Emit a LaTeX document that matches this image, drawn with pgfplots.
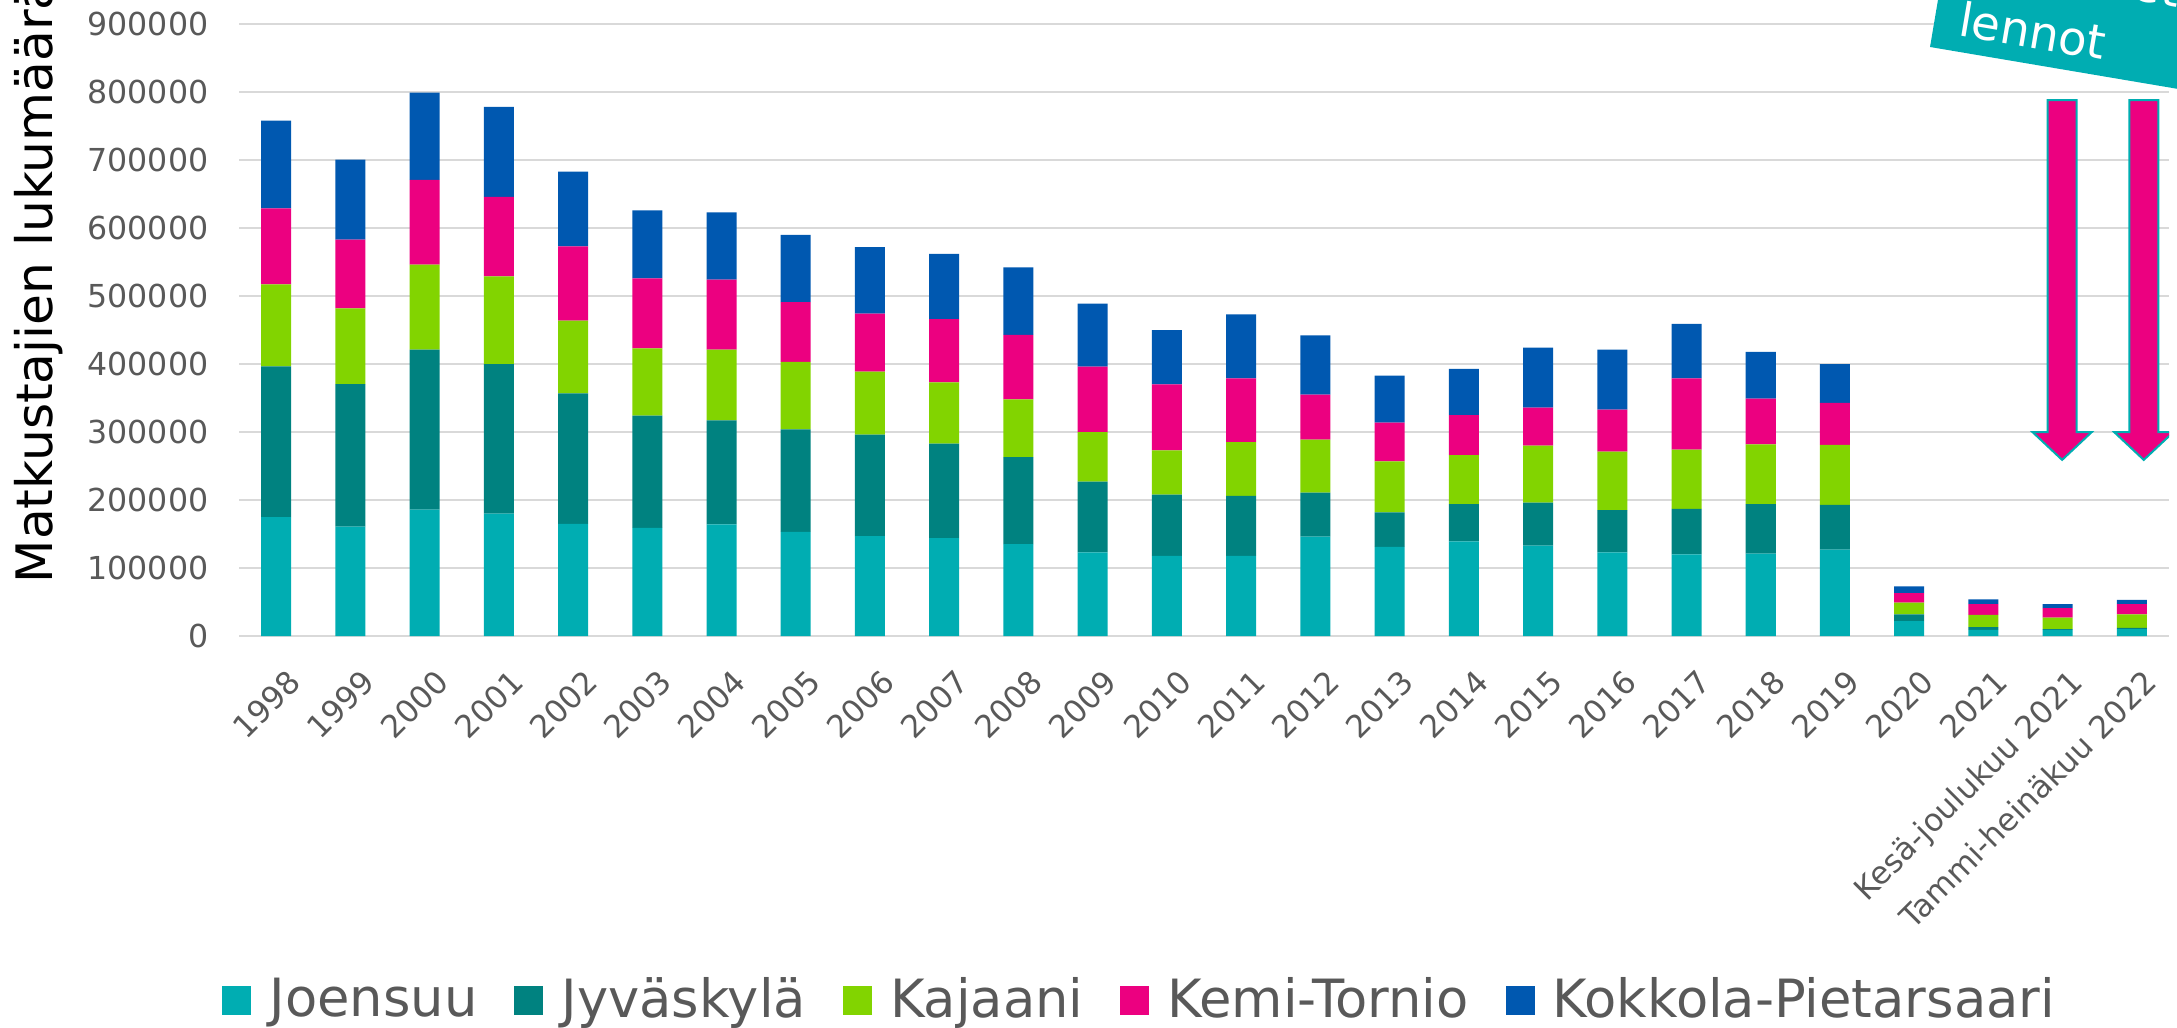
\documentclass[border=0pt]{standalone}
\usepackage{fontspec}
\setmainfont{DejaVu Sans}
\usepackage{pgfplots}
\pgfplotsset{compat=1.18}
\usepackage{pgfplotstable}
\definecolor{cJoe}{RGB}{0,173,178}
\definecolor{cJyv}{RGB}{0,130,128}
\definecolor{cKaj}{RGB}{130,212,0}
\definecolor{cKemi}{RGB}{236,0,128}
\definecolor{cKok}{RGB}{0,88,176}
\definecolor{tickgrey}{RGB}{89,89,89}
\definecolor{gridgrey}{RGB}{217,217,217}

\pgfplotstableread{
x Joe Jyv Kaj Kemi Kok
0 175000 221500 120500 112000 129000
1 161000 209500 111500 101000 117500
2 186000 235000 125000 125000 128000
3 180000 220000 129000 117000 132000
4 165000 192000 107000 109000 110000
5 159000 165000 99000 103000 100000
6 164000 153000 104000 103000 99000
7 153000 151000 99000 88000 99000
8 147000 149000 93000 85000 98000
9 144000 139000 90000 93000 96000
10 135000 128000 85000 95000 99000
11 123000 104000 73000 96000 93000
12 118000 90000 65000 97000 80000
13 118000 88000 79000 94000 94000
14 146000 65000 78000 66000 87000
15 131000 51000 75000 57000 69000
16 139000 55000 72000 59000 68000
17 133000 63000 84000 56000 88000
18 123000 62000 86000 62000 88000
19 120000 67000 87000 105000 80000
20 121000 73000 88000 67000 69000
21 127000 66000 88000 62000 57000
22 22000 10000 17000 14000 10000
23 9000 4000 18000 16000 7000
24 9000 1000 17000 14000 6000
25 10000 2000 20000 15000 6000
}\data

\begin{document}
\begin{tikzpicture}
\begin{axis}[
  at={(2.39cm,-6.36cm)}, anchor=south west,
  scale only axis, width=19.30cm, height=6.12cm,
  ybar stacked, bar width=0.30cm,
  xmin=-0.5, xmax=25.5, ymin=0, ymax=900000,
  ytick={0,100000,200000,300000,400000,500000,600000,700000,800000,900000},
  yticklabels={0,100000,200000,300000,400000,500000,600000,700000,800000,900000},
  xtick={0,...,25},
  xticklabels={1998,1999,2000,2001,2002,2003,2004,2005,2006,2007,2008,2009,2010,2011,2012,2013,2014,2015,2016,2017,2018,2019,2020,2021,Kesä-joulukuu 2021,Tammi-heinäkuu 2022},
  axis line style={draw=none},
  major tick length=0pt,
  tick style={draw=none},
  ymajorgrids,
  grid style={gridgrey, line width=0.02cm},
  scaled y ticks=false,
  yticklabel style={font=\fontsize{9}{10.5}\selectfont, text=tickgrey, anchor=east, inner sep=0pt, xshift=-0.30cm},
  xticklabel style={font=\fontsize{8.9}{10.5}\selectfont, text=tickgrey, xshift=0.10cm, yshift=-0.31cm, rotate=45, anchor=north east, inner sep=0pt},
  ylabel={Matkustajien lukumäärä},
  ylabel style={at={(axis description cs:-0.0907,0.085)}, anchor=south west, inner sep=0pt, font=\fontsize{14.3}{17}\selectfont, text=black},
  legend columns=5,
  legend style={at={(axis description cs:0.468,-0.595)}, anchor=center, draw=none, fill=none,
    font=\fontsize{15}{18}\selectfont, text=tickgrey,
    /tikz/every even column/.append style={column sep=0.30cm}},
  legend image code/.code={\fill[#1] (0cm,-0.145cm) rectangle (0.29cm,0.145cm); \path (0.40cm,0cm);},
]
\addplot[fill=cJoe, draw=none] table[x=x, y=Joe] {\data};
\addplot[fill=cJyv, draw=none] table[x=x, y=Jyv] {\data};
\addplot[fill=cKaj, draw=none] table[x=x, y=Kaj] {\data};
\addplot[fill=cKemi, draw=none] table[x=x, y=Kemi] {\data};
\addplot[fill=cKok, draw=none] table[x=x, y=Kok] {\data};
\legend{Joensuu, Jyväskylä, Kajaani, Kemi-Tornio, Kokkola-Pietarsaari}
\draw[fill=cKemi, draw=cJoe, line width=0.02cm]
  (axis cs:23.865,788000) -- (axis cs:24.255,788000) -- (axis cs:24.255,300000)
  -- (axis cs:24.46,300000) -- (axis cs:24.06,259000) -- (axis cs:23.66,300000)
  -- (axis cs:23.865,300000) -- cycle;
\draw[fill=cKemi, draw=cJoe, line width=0.02cm]
  (axis cs:24.965,788000) -- (axis cs:25.355,788000) -- (axis cs:25.355,300000)
  -- (axis cs:25.56,300000) -- (axis cs:25.16,259000) -- (axis cs:24.76,300000)
  -- (axis cs:24.965,300000) -- cycle;
\end{axis}
\begin{scope}[shift={(19.30cm,-0.47cm)}, rotate=-9.6]
  \fill[cJoe] (0,0) rectangle (4cm,2cm);
  \node[transform shape, anchor=base west, inner sep=0pt, text=white, font=\fontsize{13.3}{16}\selectfont] at (0.24cm,0.16cm) {lennot};
  \node[transform shape, anchor=base west, inner sep=0pt, text=white, font=\fontsize{13.3}{16}\selectfont] at (1.10cm,0.80cm) {Ostetut};
\end{scope}
\pgfresetboundingbox
\useasboundingbox (0,0) rectangle (21.77cm,-10.28cm);
\end{tikzpicture}
\end{document}
